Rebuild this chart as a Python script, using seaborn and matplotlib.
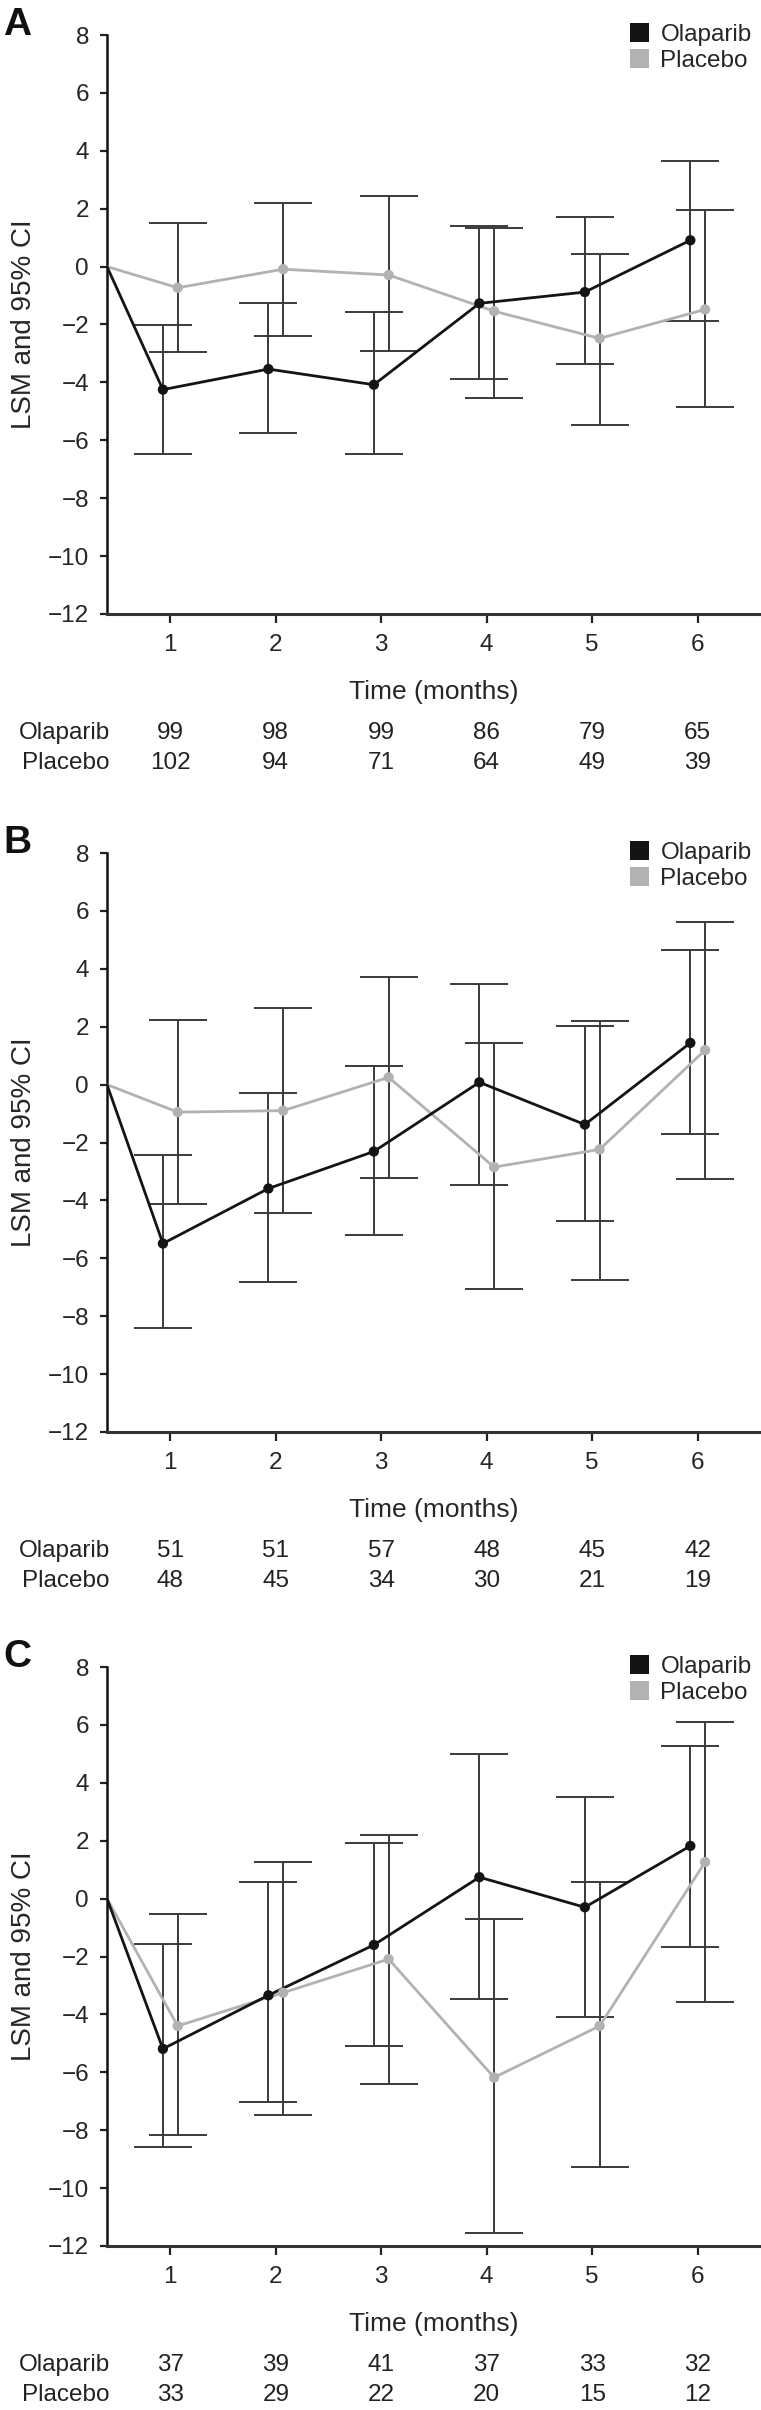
import numpy as np
import pandas as pd
import matplotlib
matplotlib.use("Agg")
import matplotlib.pyplot as plt
from matplotlib.patches import Patch
import seaborn as sns

# ---------------- data ----------------
months = [1, 2, 3, 4, 5, 6]
groups = ["Olaparib", "Placebo"]

A_ola_mean = [-4.25, -3.54, -4.08, -1.27, -0.88, 0.91]
A_ola_lo = [-6.47, -5.75, -6.47, -3.88, -3.38, -1.88]
A_ola_hi = [-2.02, -1.25, -1.57, 1.41, 1.70, 3.66]
A_pla_mean = [-0.73, -0.09, -0.29, -1.54, -2.48, -1.48]
A_pla_lo = [-2.96, -2.38, -2.92, -4.54, -5.46, -4.86]
A_pla_hi = [1.52, 2.20, 2.45, 1.32, 0.45, 1.96]
A_n_ola = [99, 98, 99, 86, 79, 65]
A_n_pla = [102, 94, 71, 64, 49, 39]

B_ola_mean = [-5.49, -3.59, -2.31, 0.08, -1.38, 1.44]
B_ola_lo = [-8.42, -6.81, -5.20, -3.46, -4.72, -1.70]
B_ola_hi = [-2.42, -0.29, 0.63, 3.49, 2.01, 4.64]
B_pla_mean = [-0.95, -0.90, 0.25, -2.85, -2.24, 1.19]
B_pla_lo = [-4.13, -4.43, -3.23, -7.05, -6.75, -3.27]
B_pla_hi = [2.24, 2.66, 3.70, 1.44, 2.20, 5.63]
B_n_ola = [51, 51, 57, 48, 45, 42]
B_n_pla = [48, 45, 34, 30, 21, 19]

C_ola_mean = [-5.19, -3.34, -1.60, 0.74, -0.30, 1.82]
C_ola_lo = [-8.58, -7.04, -5.08, -3.48, -4.09, -1.66]
C_ola_hi = [-1.58, 0.57, 1.91, 4.98, 3.50, 5.26]
C_pla_mean = [-4.40, -3.25, -2.09, -6.18, -4.40, 1.26]
C_pla_lo = [-8.15, -7.49, -6.41, -11.55, -9.27, -3.57]
C_pla_hi = [-0.52, 1.26, 2.20, -0.71, 0.58, 6.11]
C_n_ola = [37, 39, 41, 37, 33, 32]
C_n_pla = [33, 29, 22, 20, 15, 12]

y_ticks = [-12, -10, -8, -6, -4, -2, 0, 2, 4, 6, 8]
panel_letters = ["A", "B", "C"]

# ---------------- style ----------------
sns.set_theme(style="white")
plt.rcParams["font.family"] = ["Liberation Sans", "DejaVu Sans"]

BASE_X = 0.4
DODGE = 0.07
COLORS = {"Olaparib": "#141414", "Placebo": "#b2b2b2"}
ERR_COLOR = "#3a3a3a"
FS = 17.5

W, H, DPI = 761, 2410, 100
fig = plt.figure(figsize=(W / DPI, H / DPI), dpi=DPI)

ax_left_px, ax_right_px = 107, 761
panel_tops = [35, 853, 1667]
ax_h_px = 579


def draw_panel(ax, letter, ola_m, ola_lo, ola_hi, pla_m, pla_lo, pla_hi, n_ola, n_pla):
    series = {
        "Olaparib": (ola_m, ola_lo, ola_hi, -DODGE),
        "Placebo": (pla_m, pla_lo, pla_hi, DODGE),
    }
    rows = []
    for g in groups:
        m, lo, hi, off = series[g]
        rows.append({"group": g, "x": BASE_X, "y": 0.0, "pt": False})
        for mo, v in zip(months, m):
            rows.append({"group": g, "x": mo + off, "y": v, "pt": True})
    df = pd.DataFrame(rows)

    # confidence intervals
    for g in groups:
        m, lo, hi, off = series[g]
        xs = np.array(months) + off
        m = np.array(m)
        ax.errorbar(xs, m, yerr=[m - np.array(lo), np.array(hi) - m], fmt="none",
                    ecolor=ERR_COLOR, elinewidth=1.4, capsize=21, capthick=1.4, zorder=2)

    hue_order = ["Placebo", "Olaparib"]
    sns.lineplot(data=df, x="x", y="y", hue="group", hue_order=hue_order,
                 palette=COLORS, estimator=None, sort=False, lw=2.0,
                 legend=False, ax=ax, zorder=3)
    sns.scatterplot(data=df[df["pt"]], x="x", y="y", hue="group", hue_order=hue_order,
                    palette=COLORS, s=55, edgecolor="none", legend=False, ax=ax, zorder=4)

    ax.set_xlim(BASE_X, 6.6)
    ax.set_ylim(-12, 8)
    ax.set_xticks(months)
    ax.set_yticks(y_ticks)
    ax.tick_params(axis="x", length=6.5, width=1.6, pad=8, labelsize=FS, color="#222222",
                   bottom=True, direction="out")
    ax.tick_params(axis="y", length=5, width=1.6, pad=8, labelsize=FS, color="#222222",
                   left=True, direction="out")
    for s in ["top", "right"]:
        ax.spines[s].set_visible(False)
    ax.spines["left"].set_color("#111111")
    ax.spines["left"].set_linewidth(1.8)
    ax.spines["bottom"].set_color("#333333")
    ax.spines["bottom"].set_linewidth(2.2)

    ax.set_xlabel("Time (months)", fontsize=FS + 1.5, va="center")
    ax.xaxis.set_label_coords(0.5, -78 / ax_h_px)
    ax.set_ylabel("LSM and 95% CI", fontsize=FS + 2.5, va="center")
    ax.yaxis.set_label_coords((24 - ax_left_px) / (ax_right_px - ax_left_px), 0.5)

    # panel letter
    ax.text((3 - ax_left_px) / (ax_right_px - ax_left_px), 1.0, letter,
            transform=ax.transAxes, ha="left", va="baseline",
            fontsize=28, fontweight="bold", color="#111111")

    # legend
    handles = [Patch(facecolor=COLORS[g], edgecolor="none", label=g) for g in groups]
    ax.legend(handles=handles, loc="upper left",
              bbox_to_anchor=((630 - ax_left_px) / (ax_right_px - ax_left_px), 1 + 12 / ax_h_px),
              frameon=False, fontsize=FS, handlelength=0.8, handleheight=0.8,
              handletextpad=0.45, labelspacing=0.15, borderpad=0, borderaxespad=0)

    # at-risk table
    row_y = [-119 / ax_h_px, -149 / ax_h_px]
    for g, counts, yy in zip(groups, [n_ola, n_pla], row_y):
        ax.text((110 - ax_left_px) / (ax_right_px - ax_left_px), yy, g,
                transform=ax.transAxes, ha="right", va="center", fontsize=FS, color="#222222")
        for mo, c in zip(months, counts):
            ax.annotate(str(c), xy=(mo, yy), xycoords=("data", "axes fraction"),
                        ha="center", va="center", fontsize=FS, color="#222222")


panels = [
    (A_ola_mean, A_ola_lo, A_ola_hi, A_pla_mean, A_pla_lo, A_pla_hi, A_n_ola, A_n_pla),
    (B_ola_mean, B_ola_lo, B_ola_hi, B_pla_mean, B_pla_lo, B_pla_hi, B_n_ola, B_n_pla),
    (C_ola_mean, C_ola_lo, C_ola_hi, C_pla_mean, C_pla_lo, C_pla_hi, C_n_ola, C_n_pla),
]

for letter, top, data in zip(panel_letters, panel_tops, panels):
    bottom_px = top + ax_h_px
    ax = fig.add_axes([ax_left_px / W, 1 - bottom_px / H,
                       (ax_right_px - ax_left_px) / W, ax_h_px / H])
    ax.set_facecolor("white")
    draw_panel(ax, letter, *data)

fig.savefig("out.png", dpi=DPI, facecolor="white")
